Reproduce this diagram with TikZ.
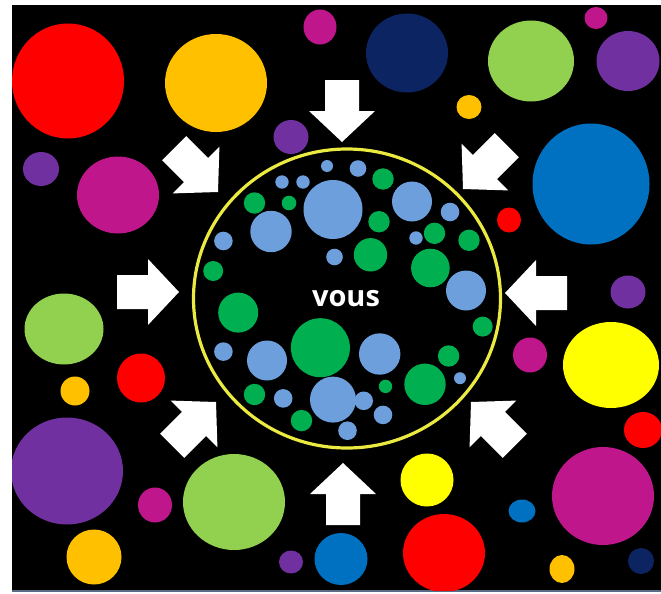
\documentclass[tikz,border=0pt]{standalone}
\usepackage{fontspec}
\newfontfamily\voustext{Open Sans}
\definecolor{cred}{HTML}{FF0000}
\definecolor{corange}{HTML}{FFC000}
\definecolor{cmagenta}{HTML}{C0168C}
\definecolor{cnavy}{HTML}{0C2462}
\definecolor{clgreen}{HTML}{92D050}
\definecolor{cpurple}{HTML}{7030A0}
\definecolor{cblue}{HTML}{0070C0}
\definecolor{cyellow}{HTML}{FFFF00}
\definecolor{cinblue}{HTML}{6C9FDB}
\definecolor{cingreen}{HTML}{00B050}
\definecolor{cring}{HTML}{EAEA40}
\definecolor{cedge}{HTML}{5A6B85}
\tikzset{
  bigarrow/.style={fill=white},
  ringline/.style={draw=cring,line width=3.2pt},
  voustextstyle/.style={text=white,font=\voustext\bfseries\fontsize{29}{29}\selectfont,inner sep=0pt}
}
\newcommand\blockarrow[3]{%
  \begin{scope}[shift={(#1,#2)},rotate=#3]
    \fill[bigarrow] (0,0) -- (-31,-33) -- (-31,-17) -- (-62,-17) -- (-62,17) -- (-31,17) -- (-31,33) -- cycle;
  \end{scope}}
\begin{document}
\begin{tikzpicture}[x=1pt,y=-1pt]
\useasboundingbox (0,0) rectangle (661,594);
\fill[white] (0,0) rectangle (661,594);
\fill[black] (12,5) rectangle (661,590);
\draw[cedge,line width=1.5pt] (12,591) -- (661,591);
\begin{scope}
\clip (12,5) rectangle (661,590);
% outer circles: x, y, rx, ry, colour
\foreach \cx/\cy/\rx/\ry/\col in {
  68/81/56/57.5/cred, 216/83/51/49/corange, 320/27/16.5/17.5/cmagenta,
  407/53/41/39.5/cnavy, 531/61/43/40.5/clgreen, 596/18/11.5/11/cmagenta,
  628/61/31.5/30/cpurple, 469/107/12.5/12/corange, 291/137/17.5/17/cpurple,
  41/169/18/17/cpurple, 118/195/41/38.5/cmagenta, 591/184/58.5/60.5/cblue,
  509/220/12/12.5/cred, 628/292/17.5/16.5/cpurple, 64/329/39.5/35.5/clgreen,
  141/378/24/24.5/cred, 75/391/14.5/14.5/corange, 530/355/17/17.5/cmagenta,
  611/365/48/43/cyellow, 643/430/19/18/cred, 67/471/56/53.5/cpurple,
  155/505/17/17.5/cmagenta, 234/502/51/48/clgreen, 94/557/27.5/27.5/corange,
  427/480/26.5/26.5/cyellow, 522/511/13.5/11.5/cblue, 603/496/51/49/cmagenta,
  291/562/12/11.5/cpurple, 341/559/26.5/26/cblue, 444/553/41/39/cred,
  562/569/12.5/14/corange, 641/561/13/13/cnavy}
  {\fill[\col] (\cx,\cy) ellipse [x radius=\rx, y radius=\ry];}
% inner circles
\foreach \cx/\cy/\r/\col in {
  327/166/6/cinblue, 358/168.5/8.3/cinblue, 383/179/10.7/cingreen,
  282/182/6.7/cinblue, 303/182/6.7/cinblue, 254.5/203/10.7/cingreen,
  289/203/7.3/cingreen, 333/209.5/29.5/cinblue, 412/201.5/20/cinblue,
  450/212/9.3/cinblue, 271/231.5/20.7/cinblue, 379/221.7/10.7/cingreen,
  223.4/241/9.3/cinblue, 434.5/233.3/10.7/cingreen, 416/238/6.7/cinblue,
  469/240.3/10.7/cingreen, 370.5/254.8/16.7/cingreen, 334.5/257/8.3/cinblue,
  430.4/268/19.3/cingreen, 213.2/271/10/cingreen, 466/290.5/20/cinblue,
  238.2/312.6/20/cingreen, 482.7/326.6/10/cingreen, 320.4/347.7/29.5/cingreen,
  223.4/351.6/9.3/cinblue, 267/360.5/20/cinblue, 379.7/354/20.7/cinblue,
  448.6/356/10.7/cingreen, 460/378.2/6/cinblue, 425/384.3/20.7/cingreen,
  254.5/394.5/10.7/cingreen, 283.2/398.4/9.3/cinblue, 333/399.6/23/cinblue,
  385.5/386.4/6.7/cingreen, 363.7/400.8/9.3/cinblue, 301.5/420.6/10.7/cingreen,
  383/414.9/9.3/cinblue, 347.5/430.7/9.3/cinblue}
  {\fill[\col] (\cx,\cy) circle [radius=\r];}
\end{scope}
% yellow ring
\draw[ringline] (347,298.5) ellipse [x radius=153.5, y radius=149.5];
% arrows towards the centre
\blockarrow{342}{142}{-90}
\blockarrow{343}{463}{90}
\blockarrow{179}{292}{0}
\blockarrow{505}{293}{180}
\blockarrow{218}{192}{-45}
\blockarrow{463}{189}{-135}
\blockarrow{216}{402}{45}
\blockarrow{471}{402}{135}
\node[voustextstyle] (vous) at (346,299) {vous};
\end{tikzpicture}
\end{document}
